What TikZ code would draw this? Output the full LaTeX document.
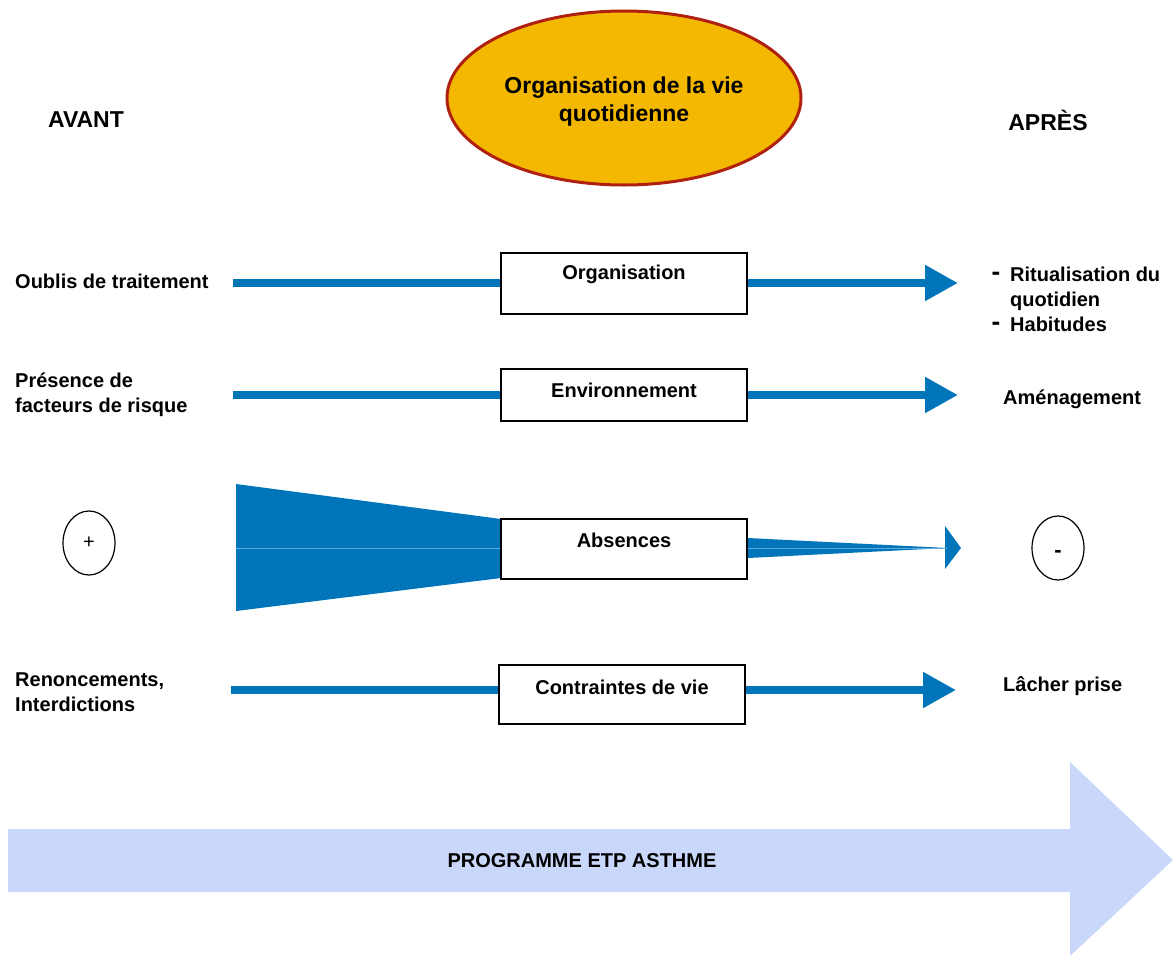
\documentclass[tikz,border=0pt]{standalone}
\usepackage{fontspec}
\setmainfont{Liberation Sans}
\usetikzlibrary{arrows.meta,shapes.geometric}
\definecolor{arrowblue}{HTML}{0075B9}
\definecolor{lineblue}{HTML}{5AA8DC}
\definecolor{bigblue}{HTML}{C9D7FA}
\definecolor{ellfill}{HTML}{F5B800}
\definecolor{ellline}{HTML}{B0200E}
\tikzset{
  txt/.style={font=\fontsize{20}{25}\selectfont\bfseries, inner sep=0pt, align=left},
  hdr/.style={font=\fontsize{23}{26}\selectfont\bfseries, inner sep=0pt},
  boxnode/.style={draw=black, line width=1.5pt, fill=white, minimum width=246pt, inner sep=0pt},
  boxtxt/.style={font=\fontsize{20}{24}\selectfont\bfseries, inner sep=0pt},
  flow/.style={draw=arrowblue, line width=8pt},
  flowarrow/.style={flow, -{Triangle[length=33pt,width=34pt]}},
  dashmark/.style={font=\fontsize{26}{28}\selectfont\bfseries, inner sep=0pt, anchor=base},
  sign/.style={draw=black, line width=1.2pt, ellipse, minimum width=52pt, minimum height=64pt, inner sep=0pt}
}
\begin{document}
\begin{tikzpicture}[x=1pt,y=-1pt]
\useasboundingbox (0,0) rectangle (1173,956);

% big arrow
\fill[bigblue] (8,829) -- (1070,829) -- (1070,762) -- (1173,860) -- (1070,956) -- (1070,892) -- (8,892) -- cycle;
\node[txt] (prog) at (582,861) {PROGRAMME ETP ASTHME};

% top ellipse
\node[ellipse, fill=ellfill, draw=ellline, line width=3pt, minimum width=354pt, minimum height=174pt,
      inner sep=0pt] (title) at (624,98) {};
\node[font=\fontsize{23}{28}\selectfont\bfseries, align=center, inner sep=0pt] (titlet) at (624,102)
      {Organisation de la vie\\quotidienne};

\node[hdr] (avant) at (86,120) {AVANT};
\node[hdr] (apres) at (1048,120) {APRÈS};

% row 1
\node[boxnode, minimum height=61pt] (org) at (624,283.5) {};
\node[boxtxt] (orgt) at (624,274) {Organisation};
\coordinate (os) at (233,283);
\coordinate (oe) at (958,283);
\draw[flow] (os) -- (os -| org.west);
\draw[flowarrow] (oe -| org.east) -- (oe);
\node[txt, anchor=west] (oublis) at (15,281) {Oublis de traitement};
\node[txt, anchor=west] (ritu) at (1010,299) {Ritualisation du\\quotidien\\Habitudes};
\node[dashmark] (d1) at (996,280) {-};
\node[dashmark] (d2) at (996,330) {-};

% row 2
\node[boxnode, minimum height=52pt] (env) at (624,395) {};
\node[boxtxt] (envt) at (624,390) {Environnement};
\coordinate (es) at (233,395);
\coordinate (ee) at (958,395);
\draw[flow] (es) -- (es -| env.west);
\draw[flowarrow] (ee -| env.east) -- (ee);
\node[txt, anchor=west] (pres) at (15,394.5) {Présence de\\facteurs de risque};
\node[txt, anchor=west] (amen) at (1003,399) {Aménagement};

% row 3
\fill[arrowblue] (236,484) -- (501,519) -- (501,548) -- (236,548) -- cycle;
\fill[arrowblue] (236,548) -- (501,548) -- (501,578) -- (236,611) -- cycle;
\draw[lineblue, line width=0.8pt] (236,548) -- (501,548);
\node[boxnode, minimum height=60pt] (abs) at (624,549) {};
\node[boxtxt] (abst) at (624,540) {Absences};
\coordinate (tip) at (947,548);
\fill[arrowblue] (abs.east |- 0,538) -- (tip) -- (abs.east |- 0,558) -- cycle;
\fill[arrowblue] (945,526) -- (961,548) -- (945,569) -- cycle;
\draw[lineblue, line width=0.6pt] (abs.east |- 0,548) -- (tip);
\node[sign, font=\fontsize{20}{24}\selectfont] (plus) at (89,543) {+};
\node[sign, font=\fontsize{22}{24}\selectfont\bfseries, text height=18pt, text depth=0pt] (minus) at (1058,548) {-};

% row 4
\node[boxnode, minimum height=59pt] (con) at (622,694.5) {};
\node[boxtxt] (cont) at (622,687) {Contraintes de vie};
\coordinate (cs) at (231,690);
\coordinate (ce) at (956,690);
\draw[flow] (cs) -- (cs -| con.west);
\draw[flowarrow] (ce -| con.east) -- (ce);
\node[txt, anchor=west] (renon) at (15,692.5) {Renoncements,\\Interdictions};
\node[txt, anchor=west] (lacher) at (1003,686) {Lâcher prise};
\end{tikzpicture}
\end{document}
